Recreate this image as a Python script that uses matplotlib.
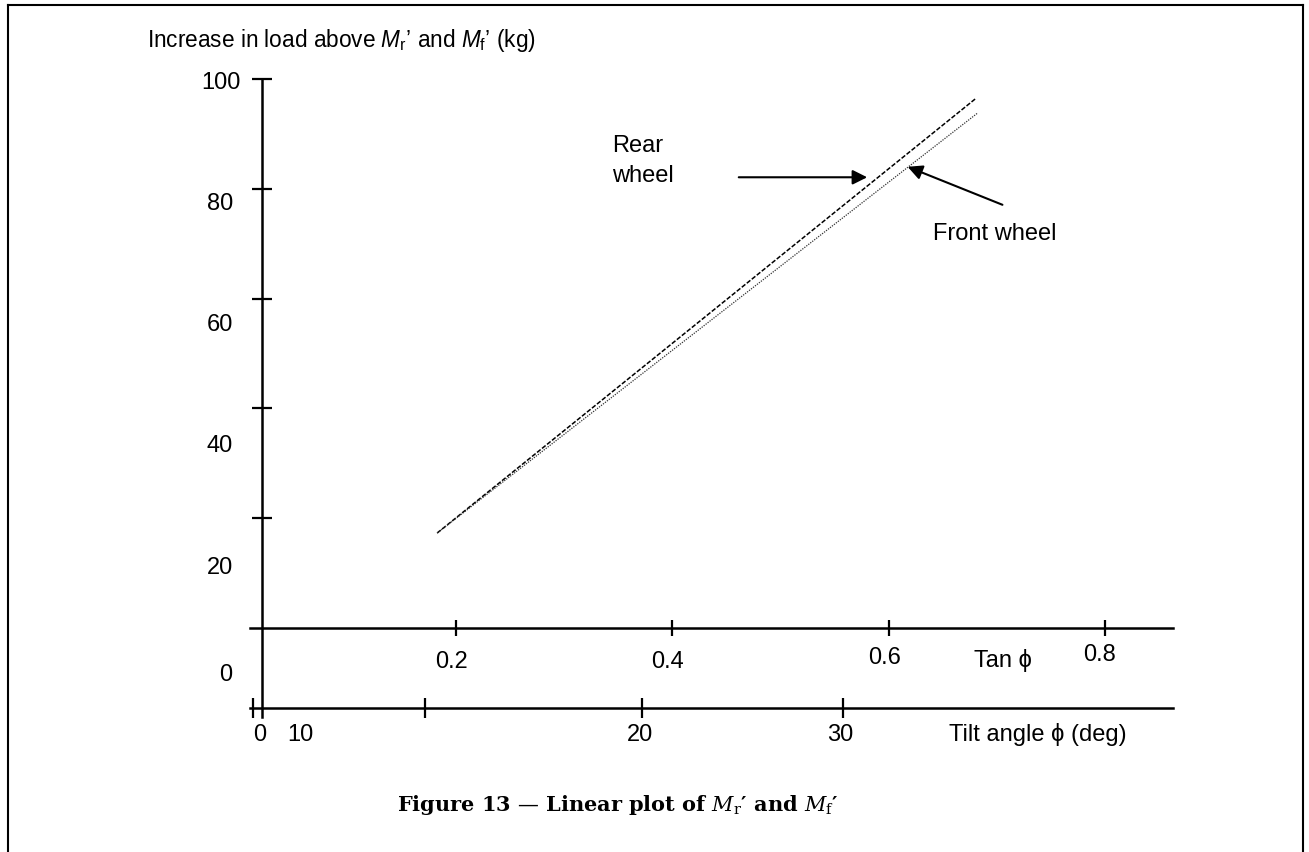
import matplotlib
matplotlib.use("Agg")
import matplotlib.pyplot as plt
from matplotlib import transforms
from matplotlib.lines import Line2D

W, H, DPI = 1309, 853, 100

plt.rcParams['font.family'] = ['Liberation Sans', 'DejaVu Sans']
plt.rcParams['mathtext.fontset'] = 'custom'
plt.rcParams['mathtext.rm'] = 'Liberation Sans'
plt.rcParams['mathtext.it'] = 'Liberation Sans:italic'

# ---------------- data ----------------
rear_tan = [0.183, 0.680]
rear_load = [17.3, 96.4]
front_tan = [0.183, 0.682]
front_load = [17.3, 93.8]

y_ticks = [20, 40, 60, 80, 100]
y_tick_labels = ['0', '20', '40', '60', '80', '100']
y_label_at = [-8.4, 11.1, 33.3, 55.3, 77.4, 99.5]      # where the printed labels sit

tan_ticks = [0.2, 0.4, 0.6, 0.8]
tan_tick_labels = ['0.2', '0.4', '0.6', '0.8']

tilt_ticks = [0, 10, 20, 30]
tilt_tick_at = [0.013, 0.172, 0.372, 0.558]               # tick marks on the tan scale

# ---------------- figure ----------------
fig = plt.figure(figsize=(W / DPI, H / DPI), dpi=DPI)

def fx(x):
    return x / W

def fy(y):
    return 1 - y / H

ax = fig.add_axes([250 / W, 1 - 709 / H, 923 / W, 629 / H])
ax.set_xlim(0.0102, 0.8624)
ax.set_ylim(-14.57, 100)
ax.patch.set_visible(False)

axis_lw = 1.8
for s in ['top', 'right']:
    ax.spines[s].set_visible(False)
ax.spines['left'].set_position(('data', 0.0212))
ax.spines['left'].set_bounds(-16.2, 100)
ax.spines['bottom'].set_position(('data', 0))
ax.spines['left'].set_linewidth(axis_lw)
ax.spines['bottom'].set_linewidth(axis_lw)

ax.set_yticks(y_ticks)
ax.set_yticklabels([])
ax.tick_params(axis='y', direction='inout', length=15, width=1.6)
ax.set_xticks(tan_ticks)
ax.set_xticklabels([])
ax.tick_params(axis='x', direction='inout', length=12, width=1.6)

sec = ax.secondary_xaxis(0.0)
sec.set_xticks(tilt_tick_at)
sec.set_xticklabels([])
sec.tick_params(axis='x', direction='inout', length=14, width=1.6)
sec.spines['bottom'].set_linewidth(axis_lw)

# data lines
ax.plot(rear_tan, rear_load, color='black', lw=1.1, linestyle=(0, (3, 1.2)))
ax.plot(front_tan, front_load, color='#333333', lw=0.9, linestyle=(0, (1, 1)))

# labels on y axis
ytr = transforms.blended_transform_factory(fig.transFigure, ax.transData)
for lab, yv in zip(y_tick_labels, y_label_at):
    xr = 241 if lab == '100' else (232 if lab == '0' else 233)
    fig.text(fx(xr), yv, lab, transform=ytr, ha='right', va='center', fontsize=17)

# tan labels
tan_label_px = [(452, 662), (668, 662), (885, 658), (1100, 655)]
for lab, (x, y) in zip(tan_tick_labels, tan_label_px):
    fig.text(fx(x), fy(y), lab, ha='center', va='center', fontsize=17)
fig.text(fx(1003), fy(660), 'Tan ϕ', ha='center', va='center', fontsize=17)

# tilt labels
tilt_label_px = [(260, 735), (300, 735), (640, 735), (840, 735)]
for lab, (x, y) in zip(tilt_ticks, tilt_label_px):
    fig.text(fx(x), fy(y), str(lab), ha='center', va='center', fontsize=17)
fig.text(fx(1038), fy(735), 'Tilt angle ϕ (deg)', ha='center', va='center', fontsize=17)

# axis title
fig.text(fx(147), fy(40), r"Increase in load above $M_\mathrm{r}$’ and $M_\mathrm{f}$’ (kg)",
         ha='left', va='center', fontsize=16.3)

# annotations
fig.text(fx(612), fy(161), 'Rear\nwheel', ha='left', va='center', fontsize=17, linespacing=1.5)
ax.annotate('', xy=(0.5826, 82.1), xytext=(0.4589, 82.1),
            arrowprops=dict(arrowstyle='-|>', color='black', lw=1.5, mutation_scale=22))
ax.annotate('', xy=(0.615, 84.2), xytext=(0.7073, 76.9),
            arrowprops=dict(arrowstyle='-|>', color='black', lw=1.5, mutation_scale=22))
fig.text(fx(995), fy(234), 'Front wheel', ha='center', va='center', fontsize=17)

# caption
fig.text(fx(618), fy(805), r"Figure 13 — Linear plot of $M_\mathrm{r}$′ and $M_\mathrm{f}$′",
         ha='center', va='center', fontsize=15, family='DejaVu Serif', weight='bold',
         math_fontfamily='dejavuserif')

# page frame
for (x0, y0, x1, y1) in [(8, 6, 1303, 6), (8, 6, 8, 853), (1303, 6, 1303, 853)]:
    fig.add_artist(Line2D([fx(x0), fx(x1)], [fy(y0), fy(y1)], transform=fig.transFigure,
                          color='black', lw=1.5))

fig.savefig('out.png', dpi=DPI)
